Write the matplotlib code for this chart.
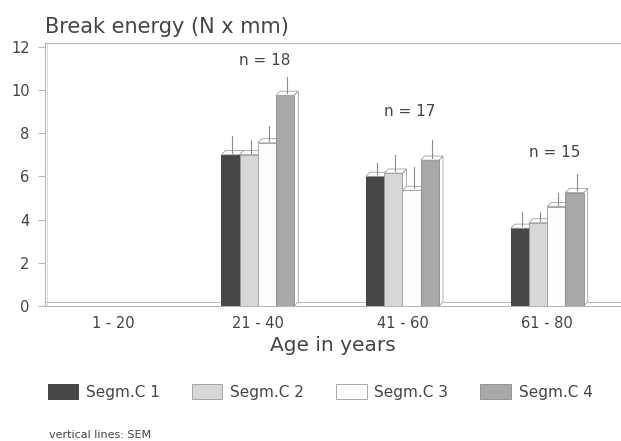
import matplotlib
matplotlib.use("Agg")
import matplotlib.pyplot as plt
from matplotlib.patches import Polygon
import numpy as np

# data
age_groups = ["1 - 20", "21 - 40", "41 - 60", "61 - 80"]
series_names = ["Segm.C 1", "Segm.C 2", "Segm.C 3", "Segm.C 4"]
# rows = segments, columns = age groups (no data for 1 - 20)
means = [
    [np.nan, 7.0, 6.0, 3.6],
    [np.nan, 7.0, 6.15, 3.85],
    [np.nan, 7.55, 5.35, 4.6],
    [np.nan, 9.75, 6.75, 5.25],
]
sem = [
    [np.nan, 0.85, 0.6, 0.75],
    [np.nan, 0.7, 0.85, 0.5],
    [np.nan, 0.8, 1.1, 0.65],
    [np.nan, 0.85, 0.95, 0.85],
]
n_labels = [None, "n = 18", "n = 17", "n = 15"]
n_label_y = [None, 11.35, 9.0, 7.1]

bar_colors = ["#474747", "#d7d7d7", "#fdfdfd", "#a8a8a8"]
edge_colors = ["#333333", "#9a9a9a", "#9a9a9a", "#8a8a8a"]
text_color = "#444444"
line_color = "#b8b8b8"

plt.rcParams["font.family"] = "DejaVu Sans"

fig = plt.figure(figsize=(6.21, 4.41), dpi=100)
ax = fig.add_axes([45 / 621, 135 / 441, 576 / 621, 263 / 441])

x = np.arange(len(age_groups))
width = 0.126
dx, dy = 0.028, 0.19  # fake 3d depth

handles = []
for i, name in enumerate(series_names):
    offs = (i - 1.5) * width
    vals = np.array(means[i])
    bars = ax.bar(x + offs, vals, width, color=bar_colors[i],
                  edgecolor=edge_colors[i], linewidth=0.6,
                  label=name, zorder=3 + i)
    handles.append(bars)
    for xi, v, e in zip(x, vals, sem[i]):
        if np.isnan(v):
            continue
        x0 = xi + offs - width / 2
        x1 = xi + offs + width / 2
        # top face and side face
        top = Polygon([(x0, v), (x1, v), (x1 + dx, v + dy), (x0 + dx, v + dy)],
                      closed=True, facecolor="white", edgecolor="#a0a0a0",
                      linewidth=0.6, zorder=3 + i)
        side = Polygon([(x1, 0), (x1 + dx, dy), (x1 + dx, v + dy), (x1, v)],
                       closed=True, facecolor="white", edgecolor="#a0a0a0",
                       linewidth=0.6, zorder=2.5 + i)
        ax.add_patch(side)
        ax.add_patch(top)
        # SEM line, upward only
        ax.plot([xi + offs + dx / 2] * 2, [v + dy / 2, v + e],
                color="#8c8c8c", linewidth=0.8, zorder=8)

for xi, lab, ly in zip(x, n_labels, n_label_y):
    if lab:
        ax.text(xi + 0.05, ly, lab, ha="center", va="center",
                fontsize=11, color=text_color)

# floor and back wall lines
ax.axhline(dy, color=line_color, linewidth=0.7, zorder=1)
ax.axvline(-0.47 + dx / 2, color="#d4d4d4", linewidth=0.6, zorder=1)

ax.set_xlim(-0.47, 3.51)
ax.set_ylim(0, 12.17)
ax.set_yticks(range(0, 13, 2))
ax.set_xticks(x)
ax.set_xticklabels(age_groups, fontsize=10.5, color=text_color)
ax.tick_params(axis="y", labelsize=10.5, labelcolor=text_color,
               color=line_color, length=5, pad=6)
ax.tick_params(axis="x", length=0, pad=7)
for s in ["left", "top", "bottom"]:
    ax.spines[s].set_color(line_color)
    ax.spines[s].set_linewidth(0.8)
ax.spines["right"].set_visible(False)

ax.set_xlabel("Age in years", fontsize=14.5, color=text_color, labelpad=4)
fig.text(45 / 621, 1 - 27 / 441, "Break energy (N x mm)", fontsize=15,
         color=text_color, ha="left", va="center")

fig.legend(handles=handles, labels=series_names, loc="center left",
           bbox_to_anchor=(34 / 621, 1 - 392 / 441), ncol=4, frameon=False,
           fontsize=11, handlelength=2.0, handleheight=1.05,
           handletextpad=0.5, columnspacing=2.1, labelcolor=text_color)

fig.text(49 / 621, 1 - 430 / 441, "vertical lines: SEM", fontsize=8,
         color=text_color, ha="left", va="top")

fig.savefig("out.png", dpi=100)
